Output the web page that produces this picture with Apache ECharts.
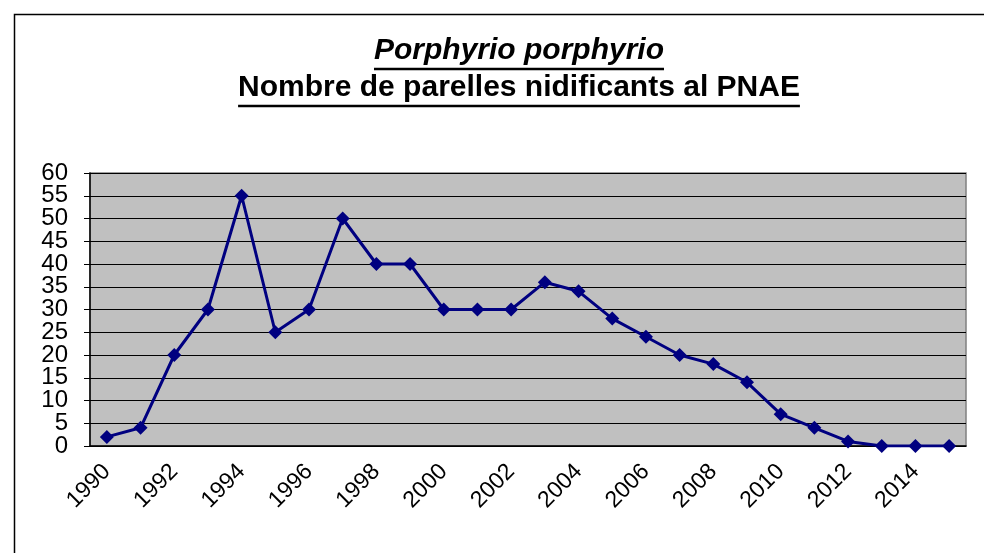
<!doctype html>
<html>
<head>
<meta charset="utf-8">
<title>Porphyrio porphyrio</title>
<style>
    html, body { margin: 0; padding: 0; background: #fff; }
    #container { width: 984px; height: 553px; }
</style>
</head>
<body>
<div id="container"></div>
<script src="https://cdn.jsdelivr.net/npm/echarts@6/dist/echarts.min.js"></script>
<script>
    var years = ['1990','1991','1992','1993','1994','1995','1996','1997','1998','1999','2000','2001','2002',
                 '2003','2004','2005','2006','2007','2008','2009','2010','2011','2012','2013','2014','2015'];
    var parelles = [2, 4, 20, 30, 55, 25, 30, 50, 40, 40, 30, 30, 30,
                    36, 34, 28, 24, 20, 18, 14, 7, 4, 1, 0, 0, 0];
    // y tick labels, split in two sets so the tall labels are not dropped as overlapping
    var yTicksA = [0, 10, 20, 30, 40, 50, 60];
    var yTicksB = [5, 15, 25, 35, 45, 55];
    var titleLine1 = 'Porphyrio porphyrio';
    var titleLine2 = 'Nombre de parelles nidificants al PNAE';

    var FONT = '"Liberation Sans", Arial, sans-serif';
    var font1 = 'italic bold 30px ' + FONT;
    var font2 = 'bold 30px ' + FONT;

    // measure text width for the underlines
    function textWidth(txt, font) {
        var c = document.createElement('canvas').getContext('2d');
        c.font = font;
        return c.measureText(txt).width;
    }
    var cx = 519;
    var w1 = textWidth(titleLine1, font1);
    var w2 = textWidth(titleLine2, font2);

    var yLabel = { margin: 22, fontFamily: FONT, fontSize: 24, color: '#000' };

    var chart = echarts.init(document.getElementById('container'));
    var option = {
        animation: false,
        backgroundColor: '#fff',
        graphic: [
            { type: 'rect', shape: { x: 14.5, y: 14.5, width: 1000, height: 600 },
              style: { fill: 'none', stroke: '#000', lineWidth: 1.5 } },
            { type: 'text', x: cx, y: 66,
              style: { text: titleLine1, font: font1, fill: '#000',
                       textAlign: 'center', textVerticalAlign: 'bottom' } },
            { type: 'line', shape: { x1: cx - w1 / 2, y1: 69, x2: cx + w1 / 2, y2: 69 },
              style: { stroke: '#000', lineWidth: 2.5 } },
            { type: 'text', x: cx, y: 103,
              style: { text: titleLine2, font: font2, fill: '#000',
                       textAlign: 'center', textVerticalAlign: 'bottom' } },
            { type: 'line', shape: { x1: cx - w2 / 2, y1: 106, x2: cx + w2 / 2, y2: 106 },
              style: { stroke: '#000', lineWidth: 2.5 } }
        ],
        grid: {
            left: 90, right: 18, top: 173, bottom: 107,
            show: true,
            backgroundColor: '#c0c0c0',
            borderColor: '#808080',
            borderWidth: 1.5
        },
        xAxis: {
            type: 'category',
            data: years,
            boundaryGap: true,
            axisLine: { lineStyle: { color: '#000', width: 1.5 } },
            axisTick: { interval: 0, length: 6, lineStyle: { color: '#000' } },
            axisLabel: {
                interval: 1, rotate: 45, margin: 22,
                fontFamily: FONT, fontSize: 23, color: '#000'
            }
        },
        yAxis: [{
            type: 'value',
            min: 0, max: 60, interval: 5,
            axisLine: { show: true, lineStyle: { color: '#000', width: 1.5 } },
            axisTick: { show: true, length: 6, lineStyle: { color: '#000' } },
            axisLabel: Object.assign({ customValues: yTicksA }, yLabel),
            splitLine: { show: true, lineStyle: { color: '#000', width: 1 } }
        }, {
            type: 'value',
            position: 'left',
            min: 0, max: 60, interval: 5,
            axisLine: { show: false },
            axisTick: { show: false },
            axisLabel: Object.assign({ customValues: yTicksB }, yLabel),
            splitLine: { show: false }
        }],
        series: [{
            type: 'line',
            data: parelles,
            yAxisIndex: 0,
            symbol: 'diamond',
            symbolSize: 14,
            lineStyle: { color: '#000080', width: 3 },
            itemStyle: { color: '#000080' }
        }]
    };
    chart.setOption(option);
</script>
</body>
</html>
